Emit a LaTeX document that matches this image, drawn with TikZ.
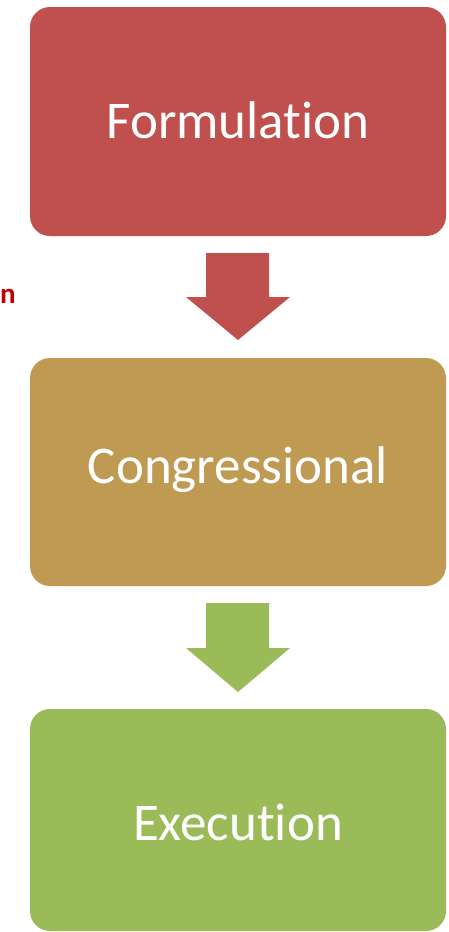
\documentclass[tikz,border=0pt]{standalone}
\usepackage{fontspec}
\setmainfont[Ligatures=NoCommon]{Carlito}
\definecolor{cred}{HTML}{C0504D}
\definecolor{cgold}{HTML}{BE9A53}
\definecolor{cgreen}{HTML}{9BBB59}
\definecolor{dred}{HTML}{C00000}
\begin{document}
\begin{tikzpicture}[x=1pt,y=-1pt,
  stagebox/.style={rounded corners=20pt},
  stagetext/.style={text=white, font=\fontsize{53}{60}\selectfont}]
\useasboundingbox (0,0) rectangle (449,932);
\fill[cred,stagebox] (30,7) rectangle (446,236);
\node[stagetext] (f) at (238,120) {Formulation};
\fill[cgold,stagebox] (30,358) rectangle (446,586);
\node[stagetext] (c) at (238,470) {Congressional};
\fill[cgreen,stagebox] (30,709) rectangle (446,931);
\node[stagetext] (e) at (238,822) {Execution};
\fill[cred] (206,253) -- (269,253) -- (269,297) -- (290,297) -- (238,340) -- (186,297) -- (206,297) -- cycle;
\fill[cgreen] (206,603) -- (269,603) -- (269,648) -- (290,648) -- (238,692) -- (186,648) -- (206,648) -- cycle;
\node[anchor=west,text=dred,font=\bfseries\fontsize{29}{32}\selectfont,inner sep=0pt] (n) at (0,296) {n};
\end{tikzpicture}
\end{document}
